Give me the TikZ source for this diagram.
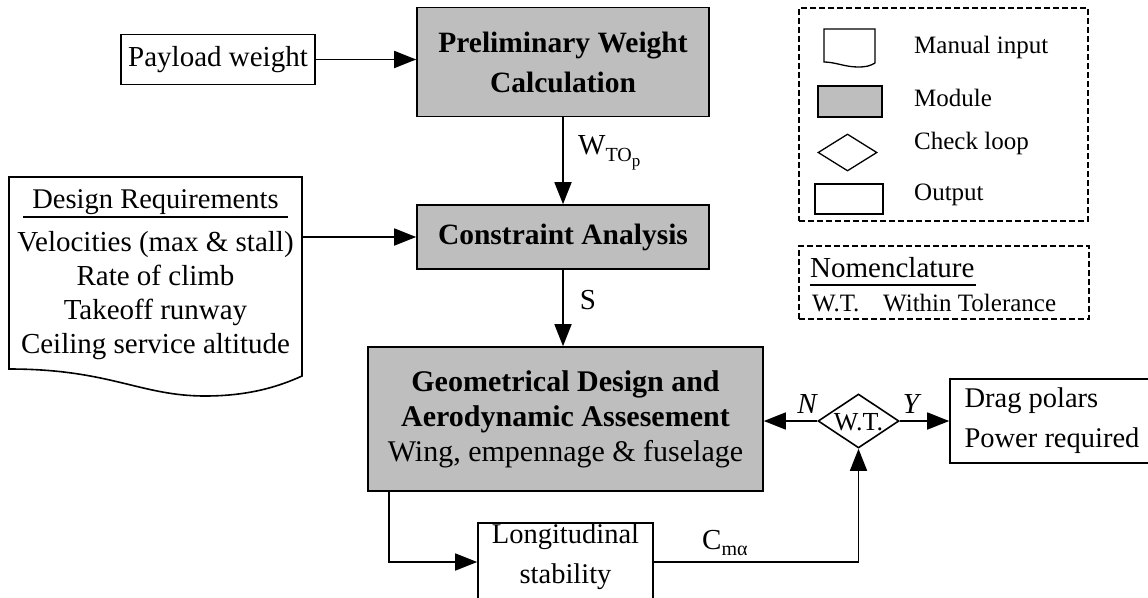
\documentclass[tikz,border=0pt]{standalone}
\usepackage{fontspec}
\setmainfont{Liberation Serif}
\usetikzlibrary{arrows.meta,shapes.geometric,calc}
\definecolor{modgray}{RGB}{190,190,190}
\begin{document}
\begin{tikzpicture}[x=1pt,y=-1pt,
  every node/.style={font=\fontsize{29}{34}\selectfont, inner sep=0pt},
  box/.style={draw, line width=1.6pt},
  module/.style={box, fill=modgray},
  arr/.style={line width=1.6pt, -{Triangle[length=22pt,width=17pt]}},
  lin/.style={line width=1.6pt},
  dbox/.style={draw, line width=1.3pt, dash pattern=on 6pt off 3pt},
  bigb/.style={font=\fontsize{29.5}{40}\selectfont\bfseries},
  leg/.style={anchor=west, font=\fontsize{25}{25}\selectfont}
  ]
\useasboundingbox (0,0) rectangle (1148,597);

% main flow
\node[box, minimum width=194pt, minimum height=50pt] (pay) at (218,59.5) {Payload weight};
\node[module, minimum width=292pt, minimum height=109pt, align=center, bigb] (pre) at (563,62) {Preliminary Weight\\Calculation};
\node[module, minimum width=292pt, minimum height=64pt, bigb] (con) at (563,237) {Constraint Analysis};
\node[module, minimum width=395pt, minimum height=144pt, align=center, font=\fontsize{30}{35}\selectfont] (geo) at (565.5,419) {{\bfseries Geometrical Design and}\\{\bfseries Aerodynamic Assesement}\\Wing, empennage \& fuselage};

% design requirements (manual input)
\node[minimum width=293pt, minimum height=192pt] (req) at (155.5,273) {};
\draw[lin] (9,177) -- (302,177) -- (302,376) .. controls (280,386) and (250,396) .. (205,396) .. controls (140,396) and (110,369) .. (9,369) -- cycle;
\node[font=\fontsize{28.5}{34}\selectfont] (reqh) at (155.5,202) {Design Requirements};
\draw[line width=1.2pt] (23,217) -- (288,217);
\node[align=center] (reql) at (155.5,296) {Velocities (max \& stall)\\Rate of climb\\Takeoff runway\\Ceiling service altitude};

% check loop
\node[draw, diamond, line width=1.6pt, minimum width=81pt, minimum height=54pt] (wt) at (858.5,421) {};
\node[font=\fontsize{26}{26}\selectfont] (wtt) at (858.5,422) {W.T.};
\node[font=\fontsize{29}{29}\selectfont\itshape] (nl) at (807,404) {N};
\node[font=\fontsize{29}{29}\selectfont\itshape] (yl) at (911,404) {Y};

% output
\node[box, minimum width=204pt, minimum height=84pt, align=left, font=\fontsize{28.5}{40}\selectfont] (out) at (1052,421) {Drag polars\\Power required};

% longitudinal stability
\node[box, minimum width=175pt, minimum height=78pt] (lon) at (565.5,562) {};
\node[align=center, font=\fontsize{28.5}{40}\selectfont] (lont) at (565.5,557) {Longitudinal\\stability};

% connectors
\draw[arr] (pay.east) -- (pay.east -| pre.west);
\draw[arr] (pre.south) -- (con.north);
\draw[arr] (req.east |- con.west) -- (con.west);
\draw[arr] (con.south) -- (con.south |- geo.north);
\draw[arr] (wt.west) -- (wt.west -| geo.east);
\draw[arr] (wt.east) -- (wt.east -| out.west);
\draw[arr] ([xshift=22pt]geo.south west) |- (lon.west);
\draw[arr] (lon.east) -| (wt.south);

% labels
\node[anchor=west] (wlab) at (578,153) {W\raisebox{-7pt}{\fontsize{20}{20}\selectfont TO\raisebox{-5pt}{\fontsize{17}{17}\selectfont p}}};
\node (slab) at (588,300) {S};
\node[anchor=west] (cma) at (702,543) {C\raisebox{-6pt}{\fontsize{20}{20}\selectfont mα}};

% legend
\node[dbox, minimum width=289pt, minimum height=213pt] (legbox) at (943.5,114.5) {};
\draw[line width=1.3pt] (824,29) -- (875,29) -- (875,63) .. controls (870,66) and (866,67) .. (858,67) .. controls (845,67) and (835,62) .. (824,62) -- cycle;
\node[module, line width=1.3pt, minimum width=64pt, minimum height=31pt] (lmod) at (850,101.5) {};
\node[draw, diamond, line width=1.3pt, minimum width=59pt, minimum height=37pt] (ldia) at (847.5,152.5) {};
\node[box, line width=1.3pt, minimum width=68pt, minimum height=30pt] (lout) at (849,199) {};
\node[leg] (l1) at (914,47) {Manual input};
\node[leg] (l2) at (914,98) {Module};
\node[leg] (l3) at (914,143) {Check loop};
\node[leg] (l4) at (914,195) {Output};

% nomenclature
\node[dbox, minimum width=290pt, minimum height=73pt] (nom) at (944,282.5) {};
\node[anchor=west] (nomt) at (810,268) {Nomenclature};
\draw[line width=1.2pt] (810,285) -- (976,285);
\node[leg] (wt1) at (812,303) {W.T.};
\node[leg] (wt2) at (883,303) {Within Tolerance};
\end{tikzpicture}
\end{document}
